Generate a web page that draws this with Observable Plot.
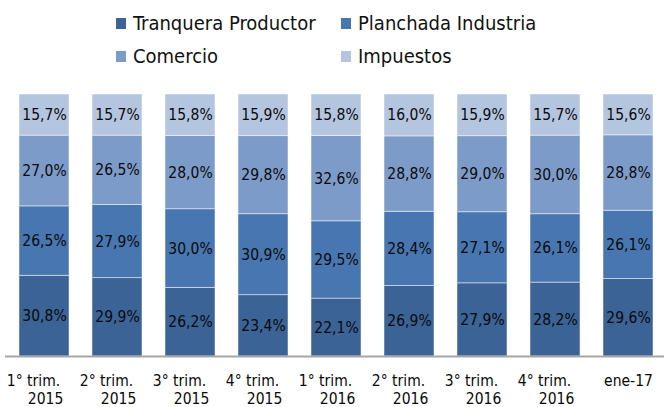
<!DOCTYPE html>
<html>
<head>
<meta charset="utf-8">
<script src="https://cdn.jsdelivr.net/npm/d3@7"></script>
<script src="https://cdn.jsdelivr.net/npm/@observablehq/plot@0.6"></script>
<style>
  html, body { margin: 0; padding: 0; background: #fff; }
  body { width: 665px; height: 407px; overflow: hidden; font-family: "DejaVu Sans Condensed", "DejaVu Sans", sans-serif; }
  #legend { height: 78px; box-sizing: border-box; padding-top: 7px; padding-left: 116px;
    display: grid; grid-template-columns: 225px 225px; grid-auto-rows: 33px; }
  .item { display: flex; align-items: center; font-size: 20px; color: #111; line-height: 33px; white-space: nowrap; }
  .sw { width: 10px; height: 11px; margin-right: 7px; flex: none; }
  #chart svg { display: block; }
</style>
</head>
<body>
<div id="legend"></div>
<div id="chart"></div>
<script>
const tickLine1 = ["1° trim.", "2° trim.", "3° trim.", "4° trim.", "1° trim.", "2° trim.", "3° trim.", "4° trim.", "ene-17"];
const tickLine2 = ["2015", "2015", "2015", "2015", "2016", "2016", "2016", "2016", ""];
const categories = tickLine1.map((t, i) => (t + " " + tickLine2[i]).trim());

const series = ["Tranquera Productor", "Planchada Industria", "Comercio", "Impuestos"];
const tranquera = [30.8, 29.9, 26.2, 23.4, 22.1, 26.9, 27.9, 28.2, 29.6];
const planchada = [26.5, 27.9, 30.0, 30.9, 29.5, 28.4, 27.1, 26.1, 26.1];
const comercio  = [27.0, 26.5, 28.0, 29.8, 32.6, 28.8, 29.0, 30.0, 28.8];
const impuestos = [15.7, 15.7, 15.8, 15.9, 15.8, 16.0, 15.9, 15.7, 15.6];
const colors = ["#3B6396", "#4876B0", "#7D9BC8", "#B4C5E0"];

const seriesValues = [tranquera, planchada, comercio, impuestos];
const data = [];
categories.forEach((c, i) => series.forEach((s, j) => data.push({cat: c, series: s, value: seriesValues[j][i]})));

const legend = document.getElementById("legend");
series.forEach((s, j) => {
  const it = document.createElement("div");
  it.className = "item";
  const sw = document.createElement("span");
  sw.className = "sw";
  sw.style.background = colors[j];
  it.appendChild(sw);
  it.appendChild(document.createTextNode(s));
  legend.appendChild(it);
});

const fmt = v => v.toFixed(1).replace(".", ",") + "%";
const lineFor = (arr) => d => arr[categories.indexOf(d)];
const yearTicks = categories.filter((c, i) => tickLine2[i] !== "");
const singleTicks = categories.filter((c, i) => tickLine2[i] === "");

const chart = Plot.plot({
  width: 665,
  height: 329,
  marginTop: 16,
  marginBottom: 51,
  marginLeft: 9,
  marginRight: 1,
  style: {fontFamily: "'DejaVu Sans Condensed', 'DejaVu Sans', sans-serif", background: "white", color: "#111"},
  x: {domain: categories, paddingInner: 0.315, paddingOuter: 0.1, axis: null},
  y: {domain: [0, 1], axis: null},
  color: {domain: series, range: colors},
  marks: [
    Plot.barY(data, Plot.stackY({x: "cat", y: "value", fill: "series", offset: "normalize", stroke: "white", strokeWidth: 0.8, strokeOpacity: 0.6})),
    Plot.text(data, Plot.stackY({x: "cat", y: "value", offset: "normalize", text: d => fmt(d.value), fontSize: 15.5, fill: "#0a0a0a"})),
    Plot.ruleY([0], {stroke: "#A6A6A6", strokeWidth: 2, insetLeft: -4}),
    Plot.axisX(yearTicks, {label: null, tickSize: 0, tickPadding: 18.6, dx: -11, tickFormat: lineFor(tickLine1), fontSize: 15.5, fill: "#0a0a0a"}),
    Plot.axisX(singleTicks, {label: null, tickSize: 0, tickPadding: 18.6, dx: 0, tickFormat: lineFor(tickLine1), fontSize: 15.5, fill: "#0a0a0a"}),
    Plot.axisX(yearTicks, {label: null, tickSize: 0, tickPadding: 36.8, dx: 1, tickFormat: lineFor(tickLine2), fontSize: 15.5, fill: "#0a0a0a"})
  ]
});
document.getElementById("chart").appendChild(chart);
</script>
</body>
</html>
